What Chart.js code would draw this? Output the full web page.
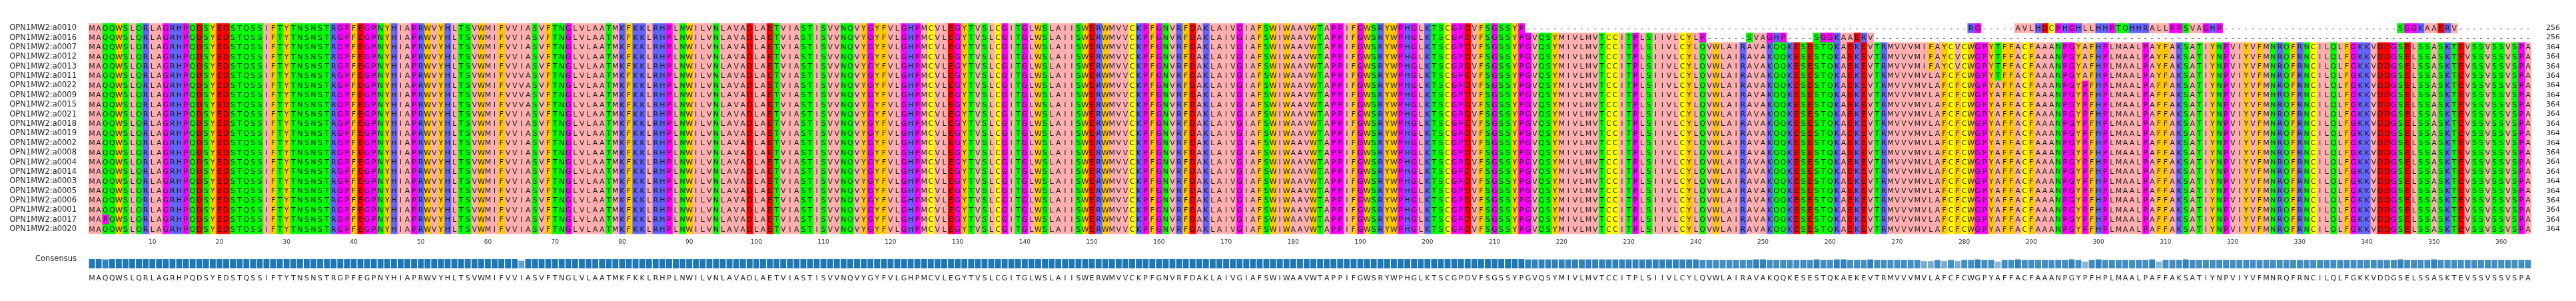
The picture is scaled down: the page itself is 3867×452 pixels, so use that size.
<!DOCTYPE html>
<html><head><meta charset="utf-8">
<script src="https://cdn.jsdelivr.net/npm/chart.js@4/dist/chart.umd.min.js"></script>
<style>
html,body{margin:0;padding:0;background:#fff;width:3867px;height:452px;overflow:hidden}
#w1{position:absolute;left:0;top:0;width:3867px;height:372px}
#w2{position:absolute;left:0;top:372px;width:3867px;height:80px}
</style></head><body>
<div id="w1"><canvas id="c1"></canvas></div>
<div id="w2"><canvas id="c2"></canvas></div>
<script>
const names = ["OPN1MW2:a0010","OPN1MW2:a0016","OPN1MW2:a0007","OPN1MW2:a0012","OPN1MW2:a0013","OPN1MW2:a0011","OPN1MW2:a0022","OPN1MW2:a0009","OPN1MW2:a0015","OPN1MW2:a0021","OPN1MW2:a0018","OPN1MW2:a0019","OPN1MW2:a0002","OPN1MW2:a0008","OPN1MW2:a0004","OPN1MW2:a0014","OPN1MW2:a0003","OPN1MW2:a0005","OPN1MW2:a0006","OPN1MW2:a0001","OPN1MW2:a0017","OPN1MW2:a0020"];
const lengths = [256,256,364,364,364,364,364,364,364,364,364,364,364,364,364,364,364,364,364,364,364,364];
const consensus = "MAQQWSLQRLAGRHPQDSYEDSTQSS" +
 "IFTYTNSNSTRGPFEGPNYHIAPRWVYHLTSVWMIFVVIASVFTNGLVLAATMKFKKLRHPL" +
 "NWILVNLAVADLAETVIASTISVVNQVYGYFVLGHPMCVLEGYTVSLCGITGLWSLAII" +
 "SWERWMVVCKPFGNVRFDAKLAIVGIAFSWIWAAVWTAPPIFGWSRYWPHGLKTSCGPDVFS" +
 "GSSYPGVQSYMIVLMVTCCITPLSIIVLCYLQVWLAIRAVAKQQKESESTQKAEKEVTRM" +
 "VVVMVLAFCFCWGPYAFFACFAAANPGYPFHPLMAALPAFFAKSATIYNPVIYVFMNRQFR" +
 "NCILQLFGKKVDDGSELSSASKTEVSSVSSVSPA";
// substitutions: [row, column(1-based), residue]
const substitutions = [
 [20,3,"P"],
 [5,65,"V"],[6,65,"V"],[7,65,"V"],[8,65,"V"],
 [2,274,"I"],[2,275,"F"],[2,277,"Y"],[2,279,"V"],[2,285,"T"],[2,298,"A"],[2,309,"Y"],
 [3,274,"I"],[3,275,"F"],[3,277,"Y"],[3,279,"V"],[3,285,"T"],[3,298,"A"],[3,309,"Y"],
 [4,274,"I"],[4,275,"F"],[4,277,"Y"],[4,279,"V"],[4,285,"T"],[4,298,"A"],[4,309,"Y"],
 [5,285,"T"],[5,298,"A"],[5,309,"Y"],
 [1,241,"P"]
];
// short rows: residues end at the cut column, then these segments, gaps elsewhere
const shortRowCut = [[0,214],[1,241]];
const shortRowSegments = [
 [0,281,"RG"],[0,288,"AVLHDCPHGHLLHHPTQHHRALLPPSVAGHP"],[0,345,"SGGKAAERV"],
 [1,248,"SVAGHP"],[1,258,"SGGKAAERV"]
];
const tickCols = [10,20,30,40,50,60,70,80,90,100,110,120,130,140,150,160,170,180,190,200,210,220,230,240,250,260,270,280,290,300,310,320,330,340,350,360];

const N = consensus.length, R = names.length;
const rows = names.map(()=>consensus.split(""));
shortRowCut.forEach(([r,c])=>{for(let i=c;i<N;i++) rows[r][i]="-";});
shortRowSegments.forEach(([r,s,t])=>{for(let i=0;i<t.length;i++) rows[r][s-1+i]=t[i];});
substitutions.forEach(([r,c,a])=>{rows[r][c-1]=a;});

const zappo = {I:"#ffafaf",L:"#ffafaf",V:"#ffafaf",A:"#ffafaf",M:"#ffafaf",F:"#ffc800",W:"#ffc800",Y:"#ffc800",
 K:"#6464ff",R:"#6464ff",H:"#6464ff",D:"#ff0000",E:"#ff0000",S:"#00ff00",T:"#00ff00",N:"#00ff00",Q:"#00ff00",
 P:"#ff00ff",G:"#ff00ff",C:"#ffff00"};
const FONT = "DejaVu Sans";

const datasets = [];
for(let c=0;c<N;c++){
  datasets.push({
    data: rows.map(r=> r[c]==="-" ? null : [c+0.5,c+1.5]),
    backgroundColor: rows.map(r=> zappo[r[c]]||"#ffffff"),
    borderWidth:0, barPercentage:1, categoryPercentage:1, grouped:false
  });
}
const letterPlugin = {
  id:"letters",
  afterDatasetsDraw(ch){
    const ctx=ch.ctx, x=ch.scales.x, y=ch.scales.y;
    ctx.save(); ctx.font="11px '"+FONT+"'"; ctx.fillStyle="#1a1a1a";
    ctx.textAlign="center"; ctx.textBaseline="middle";
    for(let r=0;r<R;r++){const py=y.getPixelForValue(r);
      for(let c=0;c<N;c++){ctx.fillText(rows[r][c], x.getPixelForValue(c+1), py+0.5);} }
    ctx.restore();
  }
};
Chart.defaults.font.family = FONT;
Chart.defaults.animation = false;
new Chart(document.getElementById("c1"),{
  type:"bar",
  data:{labels:names, datasets},
  options:{
    indexAxis:"y", responsive:true, maintainAspectRatio:false, animation:false,
    layout:{padding:{top:35,left:0,right:0,bottom:0}},
    plugins:{legend:{display:false},tooltip:{enabled:false}},
    scales:{
      x:{type:"linear",min:0.5,max:N+0.5,
        afterBuildTicks:s=>{s.ticks=tickCols.map(v=>({value:v}));},
        afterFit:s=>{s.height=20;},
        grid:{display:false,drawTicks:true,tickLength:5,tickColor:"#333"},
        border:{display:false},
        ticks:{font:{size:9},color:"#333",maxRotation:0,padding:2,autoSkip:false}},
      y:{type:"category",position:"left",offset:true,
        afterFit:s=>{s.width=133;},
        grid:{display:false},border:{display:false},
        ticks:{font:{size:11.5},color:"#262626",padding:10,autoSkip:false}},
      y2:{type:"category",position:"right",offset:true,labels:lengths.map(String),
        afterFit:s=>{s.width=67;},
        grid:{display:false},border:{display:false},
        ticks:{font:{size:11},color:"#262626",padding:14,autoSkip:false}}
    }
  },
  plugins:[letterPlugin]
});

const conservation = [];
for(let c=0;c<N;c++){
  const cnt={}; rows.forEach(r=>{cnt[r[c]]=(cnt[r[c]]||0)+1;});
  conservation.push((cnt[consensus[c]]||0)/R);
}
function shade(f){const t=Math.min(1,(1-f)*3.2);
  const a=[31,119,180],b=[255,255,255];
  return "rgb("+a.map((v,i)=>Math.round(v+(b[i]-v)*t*0.55)).join(",")+")";}
new Chart(document.getElementById("c2"),{
  type:"bar",
  data:{labels:consensus.split(""),datasets:[{data:conservation,backgroundColor:conservation.map(shade),
    borderWidth:0,barPercentage:0.88,categoryPercentage:1,yAxisID:"y"}]},
  options:{
    responsive:true,maintainAspectRatio:false,animation:false,
    layout:{padding:{top:3,left:0,right:0,bottom:0}},
    plugins:{legend:{display:false},tooltip:{enabled:false}},
    scales:{
      x:{type:"category",afterFit:s=>{s.height=49;},grid:{display:false},border:{display:false},
        ticks:{autoSkip:false,maxRotation:0,minRotation:0,font:{size:11},color:"#1a1a1a",padding:1}},
      y:{min:0,max:1,display:false},
      yl:{type:"category",position:"left",labels:["Consensus"],afterFit:s=>{s.width=133;},
        grid:{display:false},border:{display:false},ticks:{font:{size:11.5},color:"#262626",padding:10}},
      yr:{type:"category",position:"right",labels:[""],afterFit:s=>{s.width=67;},display:true,
        grid:{display:false},border:{display:false}}
    }
  }
});
</script>
</body></html>
